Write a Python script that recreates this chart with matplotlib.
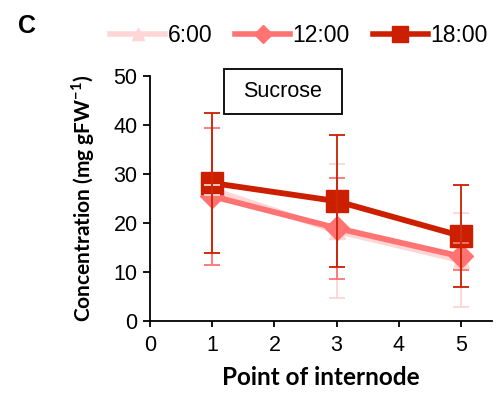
import matplotlib as mpl
import matplotlib.pyplot as plt
from matplotlib.lines import Line2D
from matplotlib.patches import Rectangle

mpl.rcParams['font.family'] = ['Liberation Sans', 'DejaVu Sans']

# data
internode = [1, 3, 5]
times = ['6:00', '12:00', '18:00']
mean_6 = [26.8, 18.4, 12.4]
err_6 = [1.0, 13.6, 9.6]
mean_12 = [25.5, 19.0, 13.2]
err_12 = [14.0, 10.3, 2.7]
mean_18 = [28.2, 24.5, 17.4]
err_18 = [14.2, 13.5, 10.4]

colors = ['#FFD6D6', '#FF7373', '#CC1F00']
markers = ['^', 'D', 's']
msizes = [12, 12, 15.5]

means = [mean_6, mean_12, mean_18]
errs = [err_6, err_12, err_18]

fig = plt.figure(figsize=(5.02, 3.95), dpi=100)
ax = fig.add_axes([0.299, 0.187, 0.681, 0.62])

for i in range(3):
    ax.plot(internode, means[i], color=colors[i], marker=markers[i],
            markersize=msizes[i], linewidth=4.2, zorder=2 + i)
for i in range(3):
    ax.errorbar(internode, means[i], yerr=errs[i], fmt='none', ecolor=colors[i],
                elinewidth=1.3, capsize=6, capthick=1.3, zorder=6 + i)

ax.set_xlim(0, 5.5)
ax.set_ylim(0, 50)
ax.set_xticks([0, 1, 2, 3, 4, 5])
ax.set_yticks([0, 10, 20, 30, 40, 50])
ax.spines['top'].set_visible(False)
ax.spines['right'].set_visible(False)
ax.spines['left'].set_linewidth(1.3)
ax.spines['bottom'].set_linewidth(1.3)
ax.tick_params(axis='y', labelsize=15.5, length=5, width=1.3, pad=4)
ax.tick_params(axis='x', labelsize=15.5, length=4, width=1.3, pad=6)

ax.set_xlabel('Point of internode', fontsize=17.5, fontweight='bold',
              family=['Lato', 'DejaVu Sans'], labelpad=7)
ax.set_ylabel('Concentration (mg gFW$^{\\mathregular{-1}}$)', fontsize=15,
              fontweight='bold', family=['Lato', 'DejaVu Sans'], labelpad=12)

# title box
ax.add_patch(Rectangle((0.216, 0.845), 0.345, 0.184, transform=ax.transAxes,
                       facecolor='white', edgecolor='black', linewidth=1.3,
                       clip_on=False, zorder=10))
ax.text(0.3885, 0.937, 'Sucrose', transform=ax.transAxes, fontsize=15.5,
        ha='center', va='center', zorder=11)

fig.text(0.035, 0.935, 'C', fontsize=18, fontweight='bold', ha='left', va='center')

handles = [Line2D([], [], color=colors[i], marker=markers[i], markersize=[9, 9, 11][i],
                  linewidth=4) for i in range(3)]
fig.legend(handles, times, loc='center', bbox_to_anchor=(0.595, 0.91), ncol=3,
           frameon=False, fontsize=16.5, handlelength=2.4, handletextpad=0.1,
           columnspacing=1.0)

fig.savefig('out.png', dpi=100)
